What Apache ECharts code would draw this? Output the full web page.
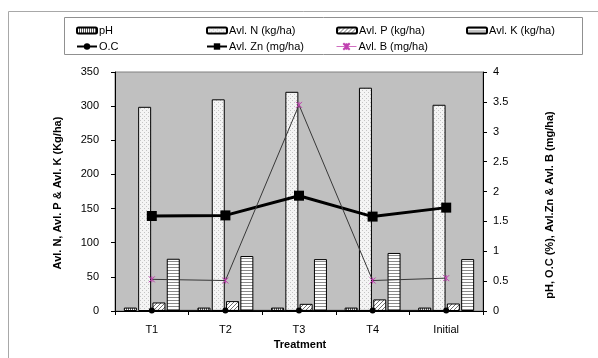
<!DOCTYPE html>
<html>
<head>
<meta charset="utf-8">
<script src="https://cdn.jsdelivr.net/npm/echarts@6/dist/echarts.min.js"></script>
<style>
html,body{margin:0;padding:0;background:#fff;}
#c{width:598px;height:358px;}
</style>
</head>
<body>
<div id="c"></div>
<script>
var categories = ['T1', 'T2', 'T3', 'T4', 'Initial'];
var phVals = [5, 5, 5, 5, 5];
var avlN = [299, 310, 321, 327, 302];
var avlP = [12.5, 14.5, 10.5, 17, 11];
var avlK = [76.5, 80.5, 76, 85, 76];
var ocVals = [0.01, 0.01, 0.01, 0.01, 0.01];
var znVals = [1.59, 1.6, 1.93, 1.58, 1.73];
var bVals = [0.53, 0.51, 3.45, 0.51, 0.55];
var leftTicks = [0, 350, 50];
var rightTicks = [0, 4, 0.5];

function pat(w, h, draw) {
  var c = document.createElement('canvas');
  c.width = w; c.height = h;
  var g = c.getContext('2d');
  draw(g, w, h);
  return {image: c, repeat: 'repeat'};
}
var phPat = pat(2, 2, function (g) {
  g.fillStyle = '#ffffff'; g.fillRect(0, 0, 2, 2);
  g.fillStyle = '#555555'; g.fillRect(0, 0, 1, 2);
});
var nPat = pat(4, 4, function (g) {
  g.fillStyle = '#f4f4f4'; g.fillRect(0, 0, 4, 4);
  g.fillStyle = '#c4c4c4'; g.fillRect(0, 0, 1, 1); g.fillRect(2, 2, 1, 1);
});
var pPat = pat(4, 4, function (g) {
  g.fillStyle = '#ffffff'; g.fillRect(0, 0, 4, 4);
  g.fillStyle = '#707070';
  g.fillRect(3, 0, 1, 1); g.fillRect(2, 1, 1, 1); g.fillRect(1, 2, 1, 1); g.fillRect(0, 3, 1, 1);
});
var kPat = pat(3, 3, function (g) {
  g.fillStyle = '#ffffff'; g.fillRect(0, 0, 3, 3);
  g.fillStyle = '#8a8a8a'; g.fillRect(0, 0, 3, 1);
});

var chart = echarts.init(document.getElementById('c'), null, {renderer: 'canvas'});
var font = 'Arial, "Liberation Sans", sans-serif';

function barSeries(name, data, color) {
  return {
    name: name, type: 'bar', data: data, yAxisIndex: 0,
    barWidth: 13, barGap: '10%', barCategoryGap: '25%',
    itemStyle: {color: color, borderColor: '#000', borderWidth: 1},
    emphasis: {disabled: true}, animation: false
  };
}
function leg(name, left, top, icon, extra) {
  var d = {name: name};
  if (extra) { for (var k in extra) d[k] = extra[k]; }
  return {
    data: [d], left: left, top: top, itemWidth: 20, itemHeight: icon === 'bar' ? 6 : 8,
    itemGap: 2, padding: 0, selectedMode: false,
    textStyle: {fontSize: 11, fontFamily: font, color: '#000', padding: [0, 0, 0, -3]}
  };
}

var option = {
  backgroundColor: '#fff',
  animation: false,
  grid: {left: 115, right: 598 - 483, top: 72, bottom: 358 - 311, show: true,
    backgroundColor: '#c0c0c0', borderColor: '#808080', borderWidth: 1},
  legend: [
    leg('pH', 76, 25, 'bar'),
    leg('Avl. N (kg/ha)', 206, 25, 'bar'),
    leg('Avl. P (kg/ha)', 336, 25, 'bar'),
    leg('Avl. K (kg/ha)', 466, 25, 'bar'),
    leg('O.C', 76, 41, 'line'),
    leg('Avl. Zn (mg/ha)', 206, 41, 'line'),
    leg('Avl. B (mg/ha)', 336, 41, 'line', {lineStyle: {color: '#d070c0', width: 1}, itemStyle: {color: '#c040b0'}})
  ],
  xAxis: {
    type: 'category', data: categories,
    axisLine: {lineStyle: {color: '#000', width: 1}},
    axisTick: {show: true, inside: false, length: 4, alignWithLabel: false, lineStyle: {color: '#000'}},
    axisLabel: {fontSize: 11, fontFamily: font, color: '#000', margin: 13}
  },
  yAxis: [
    {
      type: 'value', min: leftTicks[0], max: leftTicks[1], interval: leftTicks[2], position: 'left',
      axisLine: {show: true, lineStyle: {color: '#000'}},
      axisTick: {show: true, length: 4, lineStyle: {color: '#000'}},
      axisLabel: {fontSize: 11, fontFamily: font, color: '#000', margin: 16},
      splitLine: {show: false}
    },
    {
      type: 'value', min: rightTicks[0], max: rightTicks[1], interval: rightTicks[2], position: 'right',
      axisLine: {show: true, lineStyle: {color: '#000'}},
      axisTick: {show: true, length: 4, lineStyle: {color: '#000'}},
      axisLabel: {fontSize: 11, fontFamily: font, color: '#000', margin: 10},
      splitLine: {show: false}
    }
  ],
  series: [
    barSeries('pH', phVals, phPat),
    barSeries('Avl. N (kg/ha)', avlN, nPat),
    barSeries('Avl. P (kg/ha)', avlP, pPat),
    barSeries('Avl. K (kg/ha)', avlK, kPat),
    {
      name: 'O.C', type: 'line', yAxisIndex: 1, data: ocVals, z: 5,
      symbol: 'circle', symbolSize: 6, showSymbol: true,
      lineStyle: {color: '#000', width: 1}, itemStyle: {color: '#000'}
    },
    {
      name: 'Avl. Zn (mg/ha)', type: 'line', yAxisIndex: 1, data: znVals, z: 5,
      symbol: 'rect', symbolSize: 10, showSymbol: true,
      lineStyle: {color: '#000', width: 3}, itemStyle: {color: '#000'}
    },
    {
      name: 'Avl. B (mg/ha)', type: 'line', yAxisIndex: 1, data: bVals, z: 5,
      symbol: 'path://M0,0L10,10M10,0L0,10M5,0L5,10', symbolSize: 6, showSymbol: true,
      lineStyle: {color: '#383838', width: 1},
      itemStyle: {color: '#c040b0', borderColor: '#c040b0', borderWidth: 1}
    }
  ],
  graphic: [
    {type: 'rect', shape: {x: 8.5, y: 11.5, width: 620, height: 400}, style: {fill: 'none', stroke: '#a8a8a8', lineWidth: 1}, silent: true, z: -10},
    {type: 'rect', shape: {x: 64.5, y: 17.5, width: 518, height: 37}, style: {fill: 'none', stroke: '#909090', lineWidth: 1}, silent: true, z: -10},
    {type: 'text', x: 58, y: 193, rotation: Math.PI / 2,
      style: {text: 'Avl. N, Avl. P & Avl. K (Kg/ha)', font: 'bold 11px Arial, "Liberation Sans", sans-serif', fill: '#000', textAlign: 'center', textVerticalAlign: 'middle'}},
    {type: 'text', x: 550, y: 205, rotation: Math.PI / 2,
      style: {text: 'pH, O.C (%), Avl.Zn & Avl. B (mg/ha)', font: 'bold 11px Arial, "Liberation Sans", sans-serif', fill: '#000', textAlign: 'center', textVerticalAlign: 'middle'}},
    {type: 'text', x: 300, y: 345,
      style: {text: 'Treatment', font: 'bold 11px Arial, "Liberation Sans", sans-serif', fill: '#000', textAlign: 'center', textVerticalAlign: 'middle'}}
  ]
};
chart.setOption(option);
</script>
</body>
</html>
